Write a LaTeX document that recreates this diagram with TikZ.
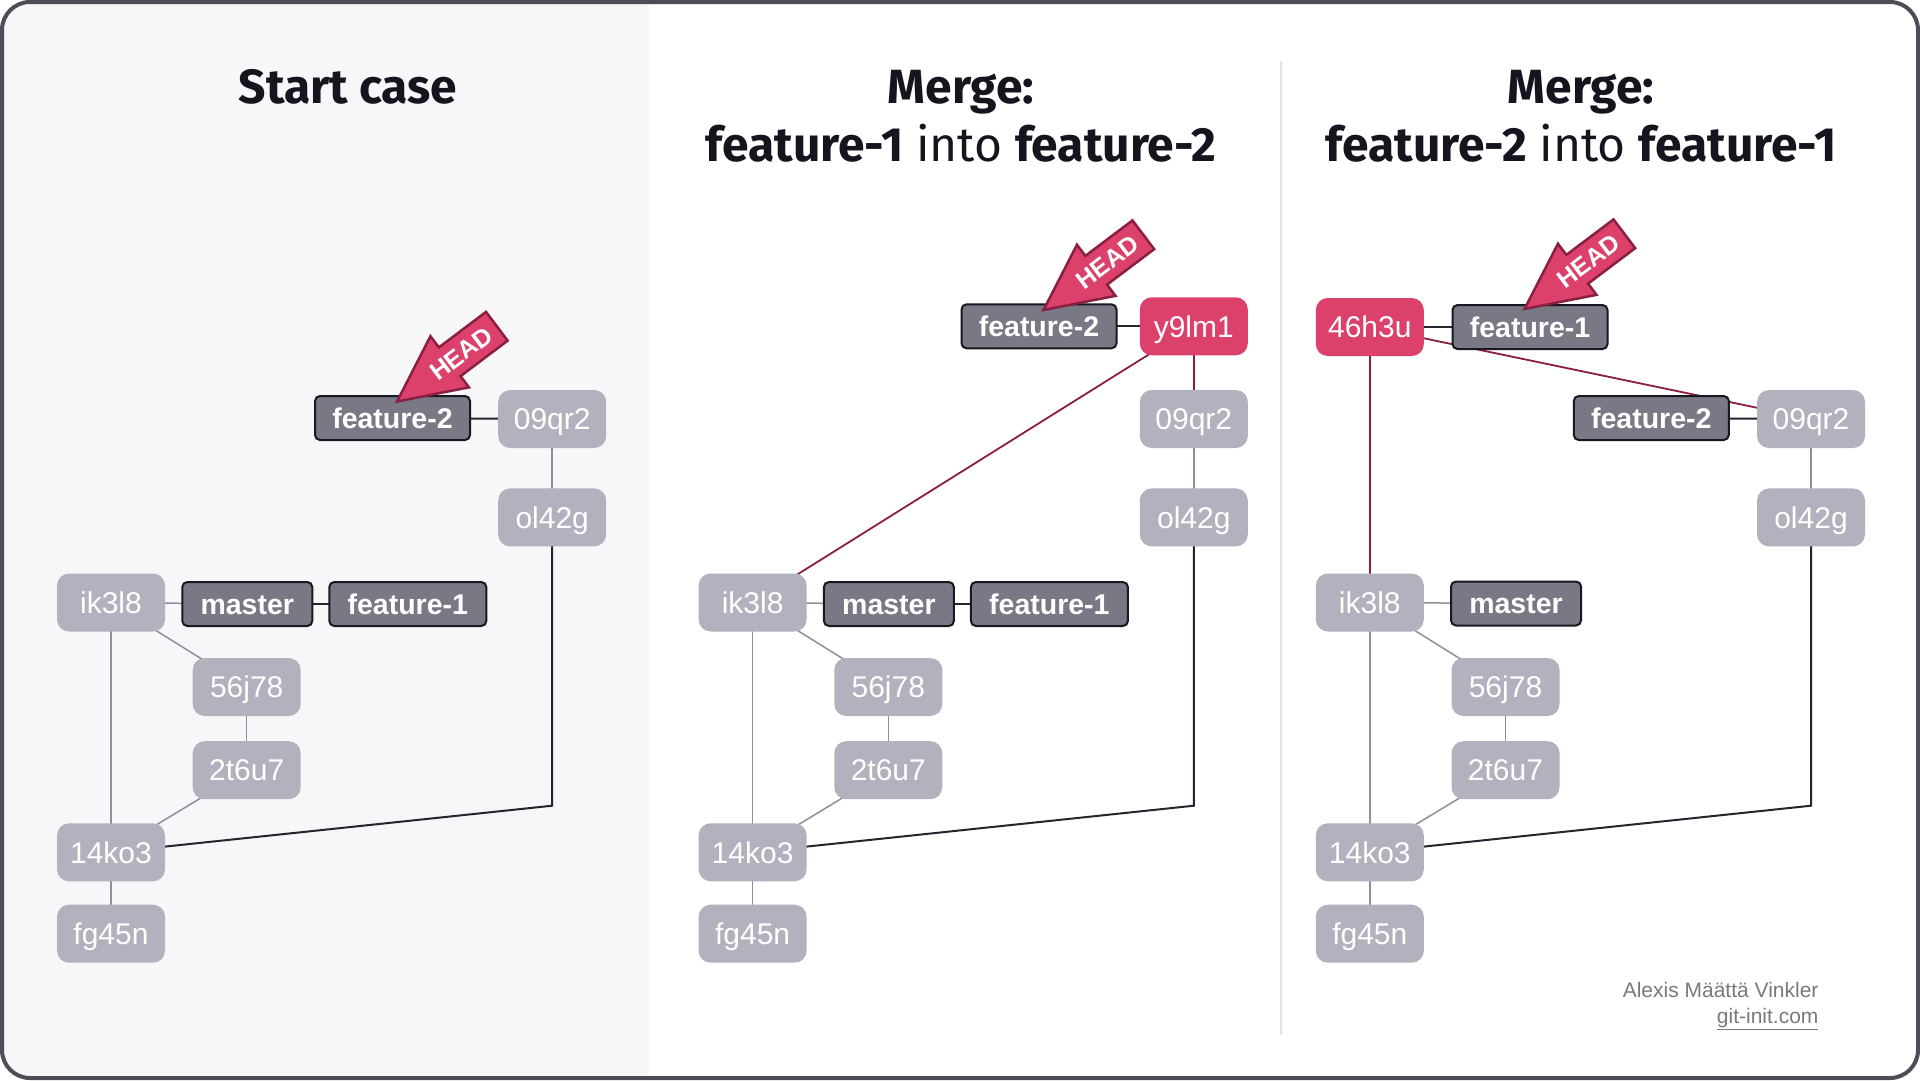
\documentclass[tikz,border=0pt]{standalone}
\usepackage{fontspec}
\setmainfont{Liberation Sans}
\newfontfamily\titlefont{Fira Sans}
\usetikzlibrary{calc}
\pgfdeclarelayer{back}
\pgfdeclarelayer{lines}
\pgfsetlayers{back,lines,main}
\definecolor{commitgray}{HTML}{B1B2BD}
\definecolor{labelgray}{HTML}{797986}
\definecolor{labelborder}{HTML}{181822}
\definecolor{redc}{HTML}{DC416C}
\definecolor{darkred}{HTML}{8A1F40}
\definecolor{linegray}{HTML}{8E8F9A}
\definecolor{linedark}{HTML}{252530}
\definecolor{panelbg}{HTML}{F7F7F9}
\definecolor{framec}{HTML}{4D4D59}
\definecolor{dividerc}{HTML}{E2E2E7}
\definecolor{titlec}{HTML}{15151F}
\definecolor{footc}{HTML}{7A7A7A}
\tikzset{
  commit/.style={rectangle, rounded corners=12pt, fill=commitgray, text=white,
    minimum width=108pt, minimum height=58pt, inner sep=0pt,
    text height=21.5pt, text depth=0pt,
    font=\fontsize{30}{30}\selectfont},
  newcommit/.style={commit, fill=redc},
  branch/.style={rectangle, rounded corners=5pt, fill=labelgray, draw=labelborder,
    line width=2pt, text=white, minimum height=44pt, inner sep=0pt,
    text height=20.5pt, text depth=0pt,
    font=\fontsize{28.5}{28.5}\selectfont\bfseries},
  glink/.style={draw=linegray, line width=1.5pt},
  blink/.style={draw=linedark, line width=2pt},
  rlink/.style={draw=darkred, line width=1.8pt},
  titletxt/.style={anchor=base, text=titlec, font=\titlefont\fontsize{48}{48}\selectfont},
  headarrow/.style={fill=redc, draw=darkred, line width=2.5pt, line join=miter},
  foot/.style={anchor=base east, text=footc, font=\fontsize{21}{21}\selectfont}
}
\newcommand{\headarrowat}[2]{%
  \begin{scope}[shift={(#1)}, rotate=37]
    \path[headarrow] (0pt,0pt) -- (66pt,32pt) -- (66pt,18pt) -- (125pt,18pt)
      -- (125pt,-18pt) -- (66pt,-18pt) -- (66pt,-32pt) -- cycle;
    \node[rotate=37, text=white, inner sep=0pt, text height=18pt, text depth=0pt,
      font=\fontsize{25}{25}\selectfont\bfseries] (#2) at (80pt,0pt) {HEAD};
  \end{scope}}
\begin{document}
\begin{tikzpicture}[x=1pt, y=-1pt]
\useasboundingbox (0,0) rectangle (1920,1080);
\begin{pgfonlayer}{back}
  \fill[white] (0,0) rectangle (1920,1080);
  \begin{scope}
    \clip[rounded corners=28pt] (2,2) rectangle (1918,1078);
    \fill[panelbg] (0,0) rectangle (649,1080);
  \end{scope}
  \draw[framec, line width=4pt, rounded corners=28pt] (2,2) rectangle (1918,1078);
  \draw[dividerc, line width=1.5pt] (1281,61) -- (1281,1035);
\end{pgfonlayer}

% titles
\node[titletxt] (t1) at (348,103) {\bfseries Start case};
\node[titletxt] (t2a) at (961,103) {\bfseries Merge:};
\node[titletxt] (t2b) at (961,161.5) {\textbf{feature-1} into \textbf{feature-2}};
\node[titletxt] (t3a) at (1581,103) {\bfseries Merge:};
\node[titletxt] (t3b) at (1581,161.5) {\textbf{feature-2} into \textbf{feature-1}};

% ---------- panel 1 ----------
\node[branch, minimum width=155pt] (a-f2) at (392.5,418) {feature-2};
\node[commit] (a-09) at (552.2,419) {09qr2};
\node[commit] (a-ol) at (552.2,517.4) {ol42g};
\node[commit] (a-ik) at (111,602.5) {ik3l8};
\node[branch, minimum width=130pt] (a-ma) at (247.3,604) {master};
\node[branch, minimum width=157pt] (a-f1) at (407.8,604) {feature-1};
\node[commit] (a-56) at (246.7,687) {56j78};
\node[commit] (a-2t) at (246.7,770.2) {2t6u7};
\node[commit] (a-14) at (111,852.3) {14ko3};
\node[commit] (a-fg) at (111,933.7) {fg45n};
\coordinate (a-bend) at (552.2,805.7);
\headarrowat{397,401.5}{a-head}

% ---------- panel 2 ----------
\node[branch, minimum width=155pt] (b-f2) at (1039,326.3) {feature-2};
\node[newcommit] (b-y9) at (1193.8,326.3) {y9lm1};
\node[commit] (b-09) at (1193.8,419) {09qr2};
\node[commit] (b-ol) at (1193.8,517.4) {ol42g};
\node[commit] (b-ik) at (752.6,602.5) {ik3l8};
\node[branch, minimum width=130pt] (b-ma) at (888.9,604) {master};
\node[branch, minimum width=157pt] (b-f1) at (1049.4,604) {feature-1};
\node[commit] (b-56) at (888.3,687) {56j78};
\node[commit] (b-2t) at (888.3,770.2) {2t6u7};
\node[commit] (b-14) at (752.6,852.3) {14ko3};
\node[commit] (b-fg) at (752.6,933.7) {fg45n};
\coordinate (b-bend) at (1193.8,805.7);
\headarrowat{1043.5,310}{b-head}

% ---------- panel 3 ----------
\node[newcommit] (c-46) at (1369.8,327) {46h3u};
\node[branch, minimum width=155pt] (c-f1) at (1530,327) {feature-1};
\node[branch, minimum width=155pt] (c-f2) at (1651.3,418) {feature-2};
\node[commit] (c-09) at (1811,419) {09qr2};
\node[commit] (c-ol) at (1811,517.4) {ol42g};
\node[commit] (c-ik) at (1369.8,602.5) {ik3l8};
\node[branch, minimum width=130pt] (c-ma) at (1516,603.5) {master};
\node[commit] (c-56) at (1505.5,687) {56j78};
\node[commit] (c-2t) at (1505.5,770.2) {2t6u7};
\node[commit] (c-14) at (1369.8,852.3) {14ko3};
\node[commit] (c-fg) at (1369.8,933.7) {fg45n};
\coordinate (c-bend) at (1811,805.7);
\headarrowat{1524.5,309}{c-head}

% ---------- connectors ----------
\begin{pgfonlayer}{lines}
  \foreach \p in {a,b,c} {
    \draw[glink] (\p-09.center) -- (\p-ol.center);
    \draw[blink] (\p-ol.center) -- (\p-bend) -- (\p-14.center);
    \draw[glink] (\p-ik.center) -- (\p-ma.center);
    \draw[glink] (\p-ik.center) -- (\p-56.center);
    \draw[glink] (\p-56.center) -- (\p-2t.center);
    \draw[glink] (\p-2t.center) -- (\p-14.center);
    \draw[glink] (\p-ik.center) -- (\p-14.center);
    \draw[glink] (\p-14.center) -- (\p-fg.center);
  }
  \draw[blink] (a-f2.center) -- (a-09.center);
  \draw[blink] (a-ma.center) -- (a-f1.center);
  \draw[blink] (b-ma.center) -- (b-f1.center);
  \draw[blink] (b-f2.center) -- (b-y9.center);
  \draw[rlink] (b-y9.center) -- (b-09.center);
  \draw[rlink] (b-y9.center) -- (b-ik.center);
  \draw[blink] (c-46.center) -- (c-f1.center);
  \draw[blink] (c-f2.center) -- (c-09.center);
  \draw[rlink] (c-46.center) -- (c-ik.center);
  \draw[rlink] (c-46.center) -- (c-09.center);
\end{pgfonlayer}

% footer
\node[foot] (author) at (1822,997) {Alexis Määttä Vinkler};
\node[foot] (site) at (1822,1023.5) {\underline{git-init.com}};
\end{tikzpicture}
\end{document}
